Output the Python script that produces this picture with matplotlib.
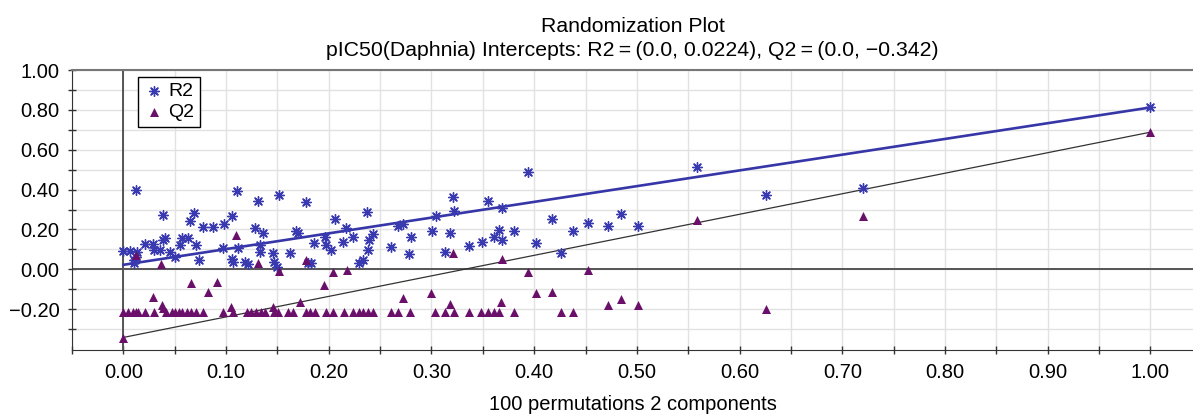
import matplotlib
matplotlib.use("Agg")
import matplotlib.pyplot as plt
from matplotlib.ticker import FixedLocator

plt.rcParams['font.family'] = ['Liberation Sans', 'DejaVu Sans']

# ---------------- data ----------------
r2_x = [0.000, 0.006, 0.010, 0.010, 0.012, 0.012, 0.013, 0.021, 0.029, 0.030,
        0.036, 0.039, 0.039, 0.041, 0.045, 0.050, 0.055, 0.057, 0.063, 0.065,
        0.069, 0.071, 0.074, 0.078, 0.087, 0.097, 0.098, 0.106, 0.106, 0.107,
        0.111, 0.112, 0.118, 0.121, 0.128, 0.131, 0.133, 0.133, 0.136, 0.146,
        0.147, 0.152, 0.150, 0.162, 0.168, 0.170, 0.178, 0.180, 0.183, 0.186,
        0.196, 0.197, 0.202, 0.206, 0.214, 0.217, 0.224, 0.229, 0.233, 0.237,
        0.238, 0.239, 0.243, 0.261, 0.267, 0.272, 0.278, 0.280, 0.301, 0.304,
        0.313, 0.318, 0.321, 0.322, 0.337, 0.349, 0.355, 0.361, 0.366, 0.369,
        0.369, 0.380, 0.394, 0.402, 0.417, 0.426, 0.438, 0.452, 0.472, 0.485,
        0.501, 0.559, 0.626, 0.720, 1.000]
r2_y = [0.094, 0.094, 0.047, 0.030, 0.400, 0.060, 0.089, 0.126, 0.126, 0.097,
        0.097, 0.270, 0.147, 0.155, 0.089, 0.060, 0.120, 0.156, 0.156, 0.240,
        0.280, 0.120, 0.047, 0.214, 0.214, 0.105, 0.226, 0.265, 0.050, 0.038,
        0.394, 0.105, 0.039, 0.027, 0.206, 0.345, 0.122, 0.089, 0.180, 0.080,
        0.039, 0.373, 0.013, 0.084, 0.190, 0.180, 0.340, 0.030, 0.030, 0.134,
        0.164, 0.122, 0.097, 0.250, 0.139, 0.206, 0.164, 0.034, 0.047, 0.285,
        0.097, 0.147, 0.178, 0.110, 0.218, 0.228, 0.077, 0.164, 0.190, 0.265,
        0.089, 0.184, 0.362, 0.290, 0.117, 0.139, 0.343, 0.164, 0.198, 0.147,
        0.307, 0.190, 0.486, 0.134, 0.250, 0.080, 0.194, 0.234, 0.218, 0.276,
        0.218, 0.513, 0.373, 0.410, 0.812]

q2_x = [0.000, 0.000, 0.005, 0.009, 0.012, 0.014, 0.012, 0.021, 0.029, 0.030,
        0.037, 0.038, 0.039, 0.042, 0.047, 0.050, 0.054, 0.057, 0.062, 0.066,
        0.071, 0.078, 0.066, 0.082, 0.091, 0.097, 0.105, 0.107, 0.110, 0.120,
        0.124, 0.129, 0.134, 0.138, 0.131, 0.146, 0.147, 0.151, 0.152, 0.160,
        0.165, 0.172, 0.178, 0.182, 0.187, 0.178, 0.195, 0.197, 0.204, 0.218,
        0.204, 0.215, 0.224, 0.229, 0.233, 0.238, 0.243, 0.261, 0.267, 0.279,
        0.272, 0.300, 0.303, 0.313, 0.318, 0.322, 0.321, 0.337, 0.348, 0.355,
        0.361, 0.366, 0.368, 0.380, 0.369, 0.394, 0.402, 0.417, 0.426, 0.438,
        0.452, 0.472, 0.485, 0.501, 0.559, 0.626, 0.720, 1.000]
q2_y = [-0.347, -0.212, -0.212, -0.212, -0.212, -0.212, 0.072, -0.212, -0.137, -0.212,
        0.027, -0.180, -0.195, -0.212, -0.212, -0.212, -0.212, -0.212, -0.212, -0.212,
        -0.212, -0.212, -0.070, -0.116, -0.065, -0.212, -0.188, -0.212, 0.173, -0.212,
        -0.212, -0.212, -0.212, -0.212, 0.034, -0.188, -0.212, -0.212, -0.007, -0.212,
        -0.212, -0.166, -0.212, -0.212, -0.212, 0.047, -0.079, -0.212, -0.015, -0.003,
        -0.212, -0.212, -0.212, -0.212, -0.212, -0.212, -0.212, -0.212, -0.212, -0.212,
        -0.146, -0.120, -0.212, -0.212, -0.174, -0.212, 0.084, -0.212, -0.212, -0.212,
        -0.212, -0.212, -0.166, -0.212, 0.050, -0.015, -0.120, -0.112, -0.212, -0.212,
        -0.003, -0.180, -0.151, -0.180, 0.245, -0.201, 0.265, 0.688]

# regression lines: intercept at x=0 and unpermuted model at x=1
r2_line_x = [0.0, 1.0]
r2_line_y = [0.0224, 0.812]
q2_line_x = [0.0, 1.0]
q2_line_y = [-0.342, 0.688]

x_ticks = [0.0, 0.1, 0.2, 0.3, 0.4, 0.5, 0.6, 0.7, 0.8, 0.9, 1.0]
y_ticks = [1.0, 0.8, 0.6, 0.4, 0.2, 0.0, -0.2]
x_minor = [-0.05, 0.05, 0.15, 0.25, 0.35, 0.45, 0.55, 0.65, 0.75, 0.85, 0.95]
y_minor = [0.9, 0.7, 0.5, 0.3, 0.1, -0.1, -0.3]

# ---------------- figure ----------------
fig = plt.figure(figsize=(11.93, 4.18), dpi=100)
ax = fig.add_axes([72/1193, 1-350/418, 1-72/1193, (350-70)/418])

ax.set_xlim(-0.05, 1.0415)
ax.set_ylim(-0.405, 1.0)

ax.axhline(0, color='#555555', linewidth=1.4, zorder=1)
ax.axvline(0, color='#555555', linewidth=1.4, zorder=1)

ax.plot(r2_line_x, r2_line_y, color='#3636a8', linewidth=1.9, zorder=2)
ax.plot(q2_line_x, q2_line_y, color='#333333', linewidth=0.9, zorder=2)

ax.scatter(r2_x, r2_y, marker=(8, 2, 0), s=48, color='#3a3ab0', linewidths=1.0,
           zorder=3, label='R2')
ax.scatter(q2_x, q2_y, marker='^', s=42, color='#6a0f6a', linewidths=0,
           zorder=3, label='Q2')

# ticks
ax.set_xticks(x_ticks)
ax.set_xticklabels(['%.2f' % v for v in x_ticks])
ax.set_yticks(y_ticks)
ax.set_yticklabels([('\u2212%.2f' % -v) if v < 0 else '%.2f' % v for v in y_ticks])
ax.xaxis.set_minor_locator(FixedLocator(x_minor))
ax.yaxis.set_minor_locator(FixedLocator(y_minor))
ax.grid(which='both', color='#e2e2e2', linewidth=1.0, zorder=0)
ax.set_axisbelow(True)
ax.tick_params(which='both', direction='inout', length=6, width=1.0, color='#333333',
               labelsize=14.5, pad=6)

ax.spines['right'].set_visible(False)
ax.spines['top'].set_color('#777777')
ax.spines['top'].set_linewidth(1.5)
ax.spines['left'].set_color('#333333')
ax.spines['bottom'].set_color('#333333')

leg = ax.legend(loc='upper left', bbox_to_anchor=(0.059, 0.975), fontsize=14,
                frameon=True, fancybox=False, edgecolor='black', handletextpad=0.25,
                borderpad=0.3, labelspacing=0.15, handlelength=1.0, borderaxespad=0,
                framealpha=1.0)
leg.get_frame().set_linewidth(1.0)

ax.set_title('Randomization Plot\npIC50(Daphnia) Intercepts: R2\u2009=\u2009(0.0, 0.0224), Q2\u2009=\u2009(0.0, \u22120.342)',
             fontsize=15.3, pad=10, linespacing=1.35)
ax.set_xlabel('100 permutations 2 components', fontsize=14.5, labelpad=10)

fig.savefig('out.png', dpi=100)
